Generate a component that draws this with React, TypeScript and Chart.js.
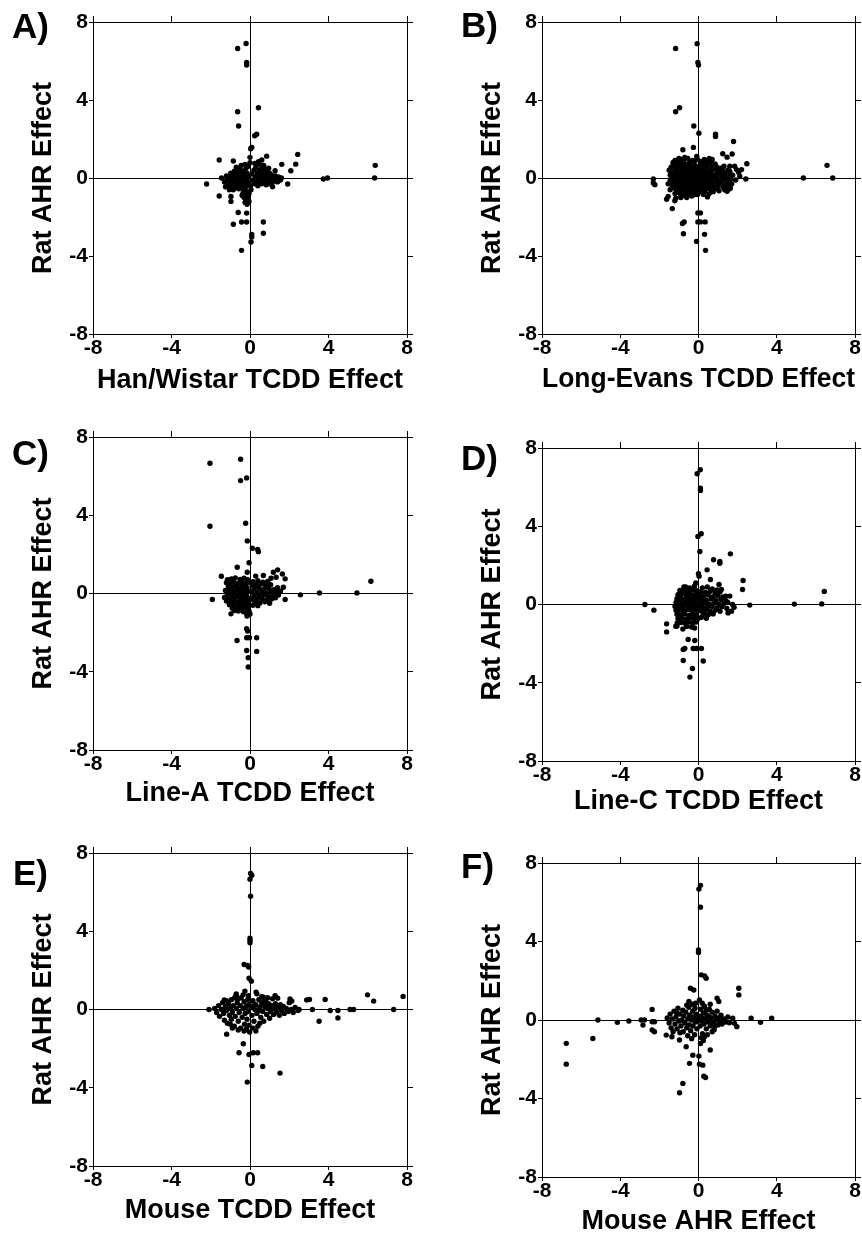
import React, { useEffect, useRef } from 'react';
import { Chart, registerables } from 'chart.js';

Chart.register(...registerables);

type Pt = [number, number];

const tickValues = [-8, -4, 0, 4, 8];
const yAxisTitle = 'Rat AHR Effect';
const panelLetters = ['A)', 'B)', 'C)', 'D)', 'E)', 'F)'];
const xAxisTitles = [
  'Han/Wistar TCDD Effect',
  'Long-Evans TCDD Effect',
  'Line-A TCDD Effect',
  'Line-C TCDD Effect',
  'Mouse TCDD Effect',
  'Mouse AHR Effect',
];

// ---------- Panel A: Han/Wistar TCDD vs Rat AHR ----------
const panelA: Pt[] = [
  [-0.2, 6.9], [-0.63, 6.64], [-0.17, 5.92], [-0.17, 5.79], [-0.63, 3.4], [0.43, 3.6], [-0.58, 2.67],
  [3.74, -0.05], [3.95, 0], [6.38, 0.65], [6.35, 0],
  [0.34, 2.25], [0.24, 2.17], [0.09, 1.57], [0.03, 1.5], [0, 1.06], [0, 0.78], [-1.57, 0.92], [-0.85, 0.87],
  [2.43, 1.21], [2.33, 0.71], [1.62, 0.7], [2.08, 0.37], [0.85, 1.12], [0.43, 0.83], [0.6, 0.92], [1.28, 0.37],
  [-2.21, -0.31], [1.92, -0.31], [-1.57, -0.92], [-0.97, -0.95], [-0.97, -1.2], [-0.6, -1.77], [-0.17, -1.8],
  [-0.85, -2.37], [-0.43, -2.26], [-0.17, -2.26], [0.68, -2.26], [0.68, -2.83], [0.09, -2.9], [0.09, -3.03],
  [0.05, -3.28], [-0.43, -3.71],
  [-1.45, 0], [-1.3, -0.2], [-1.25, -0.45], [-1.2, 0.1], [-1.15, -0.1], [-1.1, -0.35], [-1.05, 0.05], [-1.0, -0.2],
  [-0.98, 0.25], [-0.95, -0.5], [-0.9, 0.0], [-0.88, -0.3], [-0.85, 0.15], [-0.82, -0.1], [-0.8, 0.35], [-0.78, -0.45],
  [-0.75, 0.05], [-0.72, -0.2], [-0.7, 0.2], [-0.68, -0.35], [-0.65, 0.0], [-0.62, -0.15], [-0.6, 0.3], [-0.58, -0.55],
  [-0.55, 0.1], [-0.52, -0.3], [-0.5, 0.45], [-0.48, -0.05], [-0.45, 0.2], [-0.42, -0.4], [-0.4, 0.05], [-0.38, -0.2],
  [-0.35, 0.35], [-0.32, -0.6], [-0.3, 0.0], [-0.28, -0.3], [-0.25, 0.15], [-0.22, -0.45], [-0.2, 0.5], [-0.18, -0.1],
  [-0.15, 0.25], [-0.12, -0.35], [-0.1, 0.05], [-0.08, 0.6], [-0.05, -0.2], [-0.7, 0.55], [-0.45, 0.65], [-0.25, 0.7],
  [-1.05, -0.6], [-0.85, -0.6],
  [-0.35, -0.75], [-0.25, -0.85], [-0.15, -0.7], [-0.3, -1.0], [-0.2, -1.1], [-0.1, -0.95], [-0.25, -1.25],
  [-0.15, -1.35], [-0.05, -1.2], [-0.4, -0.9], [-0.05, -0.8], [0.05, -0.6], [0.02, -0.4],
  [0.1, 0.2], [0.15, -0.1], [0.2, 0.4], [0.22, -0.3], [0.28, 0.05], [0.3, 0.55], [0.33, -0.2], [0.38, 0.25],
  [0.4, -0.4], [0.45, 0.0], [0.48, 0.4], [0.5, -0.15], [0.55, 0.15], [0.58, -0.3], [0.6, 0.5], [0.62, 0.05],
  [0.65, -0.1], [0.68, 0.3], [0.7, -0.25], [0.72, 0.1], [0.75, 0.45], [0.78, -0.05], [0.8, 0.2], [0.82, -0.35],
  [0.85, 0.0], [0.88, 0.35], [0.9, -0.15], [0.95, 0.1], [0.98, -0.3], [1.0, 0.25], [1.05, -0.05], [1.1, 0.15],
  [1.12, -0.25], [1.18, 0.05], [1.22, -0.15], [1.3, 0.1], [1.35, -0.05], [1.4, -0.2], [1.45, 0.05], [1.55, -0.1],
  [1.6, 0.0], [1.15, -0.45], [0.5, 0.7], [0.25, 0.75], [0.7, 0.65], [0.95, 0.5],
];

// ---------- Panel B: Long-Evans TCDD vs Rat AHR ----------
const panelB: Pt[] = [
  [-0.07, 6.89], [-1.17, 6.64], [-0.03, 5.92], [0, 5.79], [-1.17, 3.4], [-0.97, 3.6], [-0.24, 2.67], [0.02, 2.3],
  [0.87, 2.25], [0.87, 2.13], [1.79, 1.87], [-0.26, 1.57], [-0.8, 1.45], [-0.09, 1.1], [1.24, 1.24], [1.72, 1.23],
  [1.46, 1.07], [2.47, 0.73], [5.36, 0], [6.57, 0.65], [6.86, 0],
  [-2.31, -0.05], [-2.31, -0.26], [-2.23, -0.34], [-1.34, -1.57], [-1.55, -0.94], [-1.63, -1.09],
  [-1.21, -1.17], [-1.16, -1.04], [-0.82, -2.33], [-0.73, -2.26], [-0.77, -2.86], [-0.1, -3.25],
  [-0.03, -1.79], [0.1, -1.79], [-0.03, -2.25], [0.1, -2.25], [0.34, -2.25], [0.31, -2.89], [0.36, -3.71],
  [-0.24, -0.85], [0.46, -0.97],
  [1.6, 0.6], [1.94, 0.43], [2.2, 0.43], [1.6, 0.34], [2.11, 0.09], [2.42, -0.05],
  [1.34, -0.6], [1.46, -0.68], [1.57, -0.56], [1.63, -0.51],
  [-0.9, 0.95], [-0.55, 1.0], [-0.3, 0.9], [-1.2, 0.9],
  [-1.1, 0.8], [-0.75, 0.82], [-0.45, 0.78], [-0.2, 0.85], [-0.95, 0.75],
  [-1.3, 0.65], [-1.05, 0.62], [-0.85, 0.68], [-0.65, 0.6], [-0.4, 0.66], [-0.15, 0.62], [-0.55, 0.7],
  [-1.2, 0.5], [-1.0, 0.48], [-0.8, 0.52], [-0.6, 0.45], [-0.45, 0.5], [-0.28, 0.55], [-0.1, 0.48], [-0.7, 0.4],
  [-1.35, 0.3], [-1.15, 0.35], [-0.95, 0.32], [-0.78, 0.38], [-0.58, 0.3], [-0.38, 0.36], [-0.22, 0.32], [-0.05, 0.38],
  [-0.5, 0.22], [-1.25, 0.18], [-1.08, 0.2], [-0.88, 0.15], [-0.7, 0.22], [-0.32, 0.2], [-0.15, 0.15], [-1.0, 0.1],
  [-1.38, 0.05], [-1.18, 0.02], [-0.98, -0.02], [-0.8, 0.05], [-0.62, 0.08], [-0.45, 0.0], [-0.28, 0.05], [-0.1, 0.02],
  [-0.55, -0.08], [-1.3, -0.12], [-1.1, -0.1], [-0.9, -0.15], [-0.72, -0.08], [-0.38, -0.12], [-0.2, -0.1], [-0.05, -0.15],
  [-1.35, -0.28], [-1.2, -0.25], [-1.02, -0.3], [-0.85, -0.22], [-0.65, -0.25], [-0.48, -0.3], [-0.3, -0.22], [-0.12, -0.28],
  [-1.28, -0.42], [-1.08, -0.38], [-0.92, -0.45], [-0.75, -0.4], [-0.58, -0.42], [-0.4, -0.38], [-0.22, -0.45], [-0.05, -0.4],
  [-1.15, -0.58], [-0.98, -0.55], [-0.8, -0.6], [-0.62, -0.55], [-0.45, -0.6], [-0.28, -0.52], [-0.1, -0.58],
  [-1.05, -0.72], [-0.85, -0.75], [-0.65, -0.7], [-0.48, -0.78], [-0.32, -0.7], [-0.15, -0.75],
  [-0.9, -0.88], [-0.7, -0.9], [-0.52, -0.85], [-0.35, -0.92], [-0.2, -0.85], [-1.2, -0.8],
  [0.1, 0.7], [0.35, 0.75], [0.6, 0.8], [0.85, 0.72], [0.2, 0.55], [0.45, 0.6], [0.7, 0.58], [0.95, 0.55], [1.15, 0.5],
  [0.08, 0.4], [0.3, 0.42], [0.55, 0.38], [0.78, 0.45], [1.0, 0.4], [1.25, 0.35],
  [0.15, 0.25], [0.4, 0.22], [0.62, 0.28], [0.88, 0.2], [1.1, 0.25], [1.35, 0.18],
  [0.05, 0.08], [0.25, 0.1], [0.5, 0.05], [0.72, 0.12], [0.95, 0.05], [1.2, 0.08], [1.45, 0.02],
  [0.12, -0.08], [0.35, -0.05], [0.6, -0.1], [0.82, -0.05], [1.05, -0.12], [1.3, -0.08], [1.55, -0.12],
  [0.2, -0.25], [0.45, -0.22], [0.7, -0.28], [0.92, -0.2], [1.15, -0.25], [1.4, -0.3],
  [0.1, -0.4], [0.3, -0.42], [0.55, -0.38], [0.8, -0.45], [1.0, -0.4], [1.25, -0.45],
  [0.2, -0.58], [0.42, -0.55], [0.65, -0.6], [0.9, -0.55], [0.05, -0.7], [0.3, -0.72],
  [1.75, 0.15], [1.9, -0.1], [1.7, -0.3], [2.05, 0.3], [1.85, 0.6], [0.55, 1.0], [0.3, 0.95], [0.7, 0.95],
  [-1.5, 0.4], [-1.55, -0.3], [-1.45, -0.6],
  [0.15, 0.85], [0.5, 0.9], [1.3, 0.6], [1.5, 0.4], [1.6, 0.2], [1.65, -0.05], [1.6, -0.35], [1.45, -0.5],
  [1.05, -0.65], [0.75, -0.7], [0.55, -0.8], [0.25, -0.85], [0.0, 0.55], [0.0, -0.5], [0.02, 0.2], [0.02, -0.2],
  [-1.45, 0.15], [-1.45, -0.15], [-1.4, 0.55], [-1.35, -0.5], [-1.3, 0.8], [-1.0, 1.0], [-0.7, 1.05],
  [-0.05, 0.95], [-0.05, -0.85], [-0.6, -1.0], [-0.9, -1.0],
];

// ---------- Panel C: Line-A TCDD vs Rat AHR ----------
const panelC: Pt[] = [
  [-0.48, 6.86], [-2.04, 6.66], [-0.48, 5.77], [-0.17, 5.91], [-2.04, 3.44], [-0.22, 3.59], [-0.14, 2.69],
  [0.12, 2.31], [0.39, 2.25], [0.43, 2.14], [-0.05, 1.57], [-0.65, 1.34], [-0.14, 1.09], [-1.46, 0.88],
  [0.29, 0.89], [0.68, 0.92], [1.19, 1.09], [1.41, 1.21], [1.65, 1.0], [1.79, 0.75], [1.07, 0.78], [1.33, 0.83],
  [1.7, 0.32], [-1.92, -0.31], [1.79, -0.31], [2.57, -0.07], [3.54, 0.03], [5.45, 0.03], [6.16, 0.63],
  [-0.8, -0.87], [-0.97, -1.04], [-0.17, -1.8], [-0.12, -1.92], [-0.66, -2.4], [-0.17, -2.26], [-0.03, -2.26],
  [0.34, -2.26], [-0.17, -2.91], [0.34, -2.96], [-0.09, -3.28], [-0.09, -3.76],
  [-1.15, 0.7], [-0.95, 0.75], [-0.75, 0.8], [-0.5, 0.72], [-0.3, 0.78], [-0.12, 0.7],
  [-1.2, 0.55], [-1.0, 0.5], [-0.82, 0.58], [-0.62, 0.52], [-0.42, 0.55], [-0.22, 0.5], [-0.05, 0.58],
  [-1.1, 0.35], [-0.9, 0.32], [-0.7, 0.38], [-0.5, 0.3], [-0.32, 0.35], [-0.15, 0.3],
  [-1.25, 0.15], [-1.05, 0.18], [-0.85, 0.12], [-0.65, 0.2], [-0.45, 0.12], [-0.25, 0.18], [-0.08, 0.1],
  [-1.15, -0.02], [-0.95, 0.0], [-0.75, -0.05], [-0.55, 0.02], [-0.35, -0.03], [-0.18, 0.0],
  [-1.3, -0.2], [-1.08, -0.18], [-0.88, -0.22], [-0.68, -0.15], [-0.48, -0.2], [-0.28, -0.18], [-0.1, -0.22],
  [-1.2, -0.38], [-1.0, -0.4], [-0.8, -0.35], [-0.6, -0.42], [-0.4, -0.38], [-0.2, -0.4], [-0.05, -0.35],
  [-1.05, -0.58], [-0.85, -0.55], [-0.65, -0.6], [-0.45, -0.55], [-0.25, -0.6], [-0.08, -0.55],
  [-0.9, -0.75], [-0.7, -0.78], [-0.5, -0.72], [-0.3, -0.78], [-0.12, -0.72],
  [-0.35, -0.92], [-0.2, -1.0], [-0.05, -0.9], [-0.15, -1.15], [0.0, -1.05], [-0.6, -0.9],
  [0.15, 0.6], [0.4, 0.65], [0.65, 0.58], [0.9, 0.62],
  [0.1, 0.45], [0.3, 0.42], [0.55, 0.48], [0.8, 0.4], [1.05, 0.45],
  [0.2, 0.25], [0.45, 0.28], [0.7, 0.22], [0.95, 0.25], [1.2, 0.2], [1.4, 0.3],
  [0.1, 0.08], [0.35, 0.05], [0.6, 0.1], [0.85, 0.02], [1.1, 0.08], [1.35, 0.05], [1.55, 0.12],
  [0.2, -0.1], [0.45, -0.12], [0.7, -0.08], [0.95, -0.15], [1.2, -0.1], [1.45, -0.08],
  [0.1, -0.28], [0.35, -0.3], [0.6, -0.25], [0.85, -0.32], [1.1, -0.28], [1.3, -0.22],
  [0.25, -0.45], [0.5, -0.48], [0.75, -0.42], [1.0, -0.5], [0.15, -0.6], [0.4, -0.62],
];

// ---------- Panel D: Line-C TCDD vs Rat AHR ----------
const panelD: Pt[] = [
  [0.09, 6.89], [-0.07, 6.68], [0.1, 5.95], [0.1, 5.83], [-0.03, 3.48], [0.14, 3.62], [0.07, 2.71],
  [0.77, 2.29], [1.09, 2.2], [1.09, 2.11], [1.63, 2.59], [0.44, 1.77], [0.0, 1.57], [0.03, 1.45],
  [0.61, 1.28], [1.05, 1.02], [1.17, 0.77], [2.28, 1.23], [2.25, 0.77], [-0.14, 1.1], [-0.66, 0.9], [-0.7, 0.77],
  [1.4, 0.43], [1.6, 0.43], [1.74, 0], [1.82, -0.14], [1.69, -0.34], [1.51, -0.43], [2.62, -0.03],
  [6.43, 0.67], [6.3, 0.03], [4.9, 0.02], [-2.74, 0], [-2.28, -0.29],
  [-1.63, -0.99], [-1.63, -1.4], [-1.16, -1.11], [-1.09, -0.94], [-0.53, -1.79], [-0.19, -1.84],
  [-0.78, -2.3], [-0.7, -2.25], [-0.27, -2.25], [-0.1, -2.25], [0.15, -2.25], [-0.78, -2.86], [0.24, -2.89],
  [-0.31, -3.27], [-0.44, -3.71],
  [-0.75, 0.9], [-0.45, 0.85], [-0.2, 0.95],
  [-0.95, 0.72], [-0.7, 0.7], [-0.5, 0.68], [-0.3, 0.75], [-0.1, 0.7],
  [-1.05, 0.5], [-0.85, 0.55], [-0.62, 0.48], [-0.42, 0.52], [-0.22, 0.5], [-0.05, 0.55],
  [-1.1, 0.3], [-0.9, 0.32], [-0.7, 0.28], [-0.5, 0.35], [-0.3, 0.3], [-0.12, 0.32],
  [-1.15, 0.1], [-0.95, 0.12], [-0.75, 0.08], [-0.55, 0.15], [-0.35, 0.1], [-0.15, 0.12],
  [-1.2, -0.1], [-1.0, -0.08], [-0.8, -0.12], [-0.6, -0.05], [-0.4, -0.1], [-0.2, -0.08], [-0.05, -0.12],
  [-1.15, -0.3], [-0.95, -0.28], [-0.75, -0.32], [-0.55, -0.25], [-0.35, -0.3], [-0.15, -0.28],
  [-1.1, -0.5], [-0.9, -0.52], [-0.7, -0.48], [-0.5, -0.55], [-0.3, -0.5], [-0.1, -0.52],
  [-1.05, -0.72], [-0.85, -0.7], [-0.65, -0.75], [-0.45, -0.7], [-0.25, -0.72], [-0.05, -0.75],
  [-0.9, -0.92], [-0.7, -0.95], [-0.5, -0.9], [-0.3, -0.95], [-0.12, -0.9],
  [-1.1, -1.1], [-0.6, -1.12], [-0.35, -1.15], [-0.2, -1.2], [-0.8, -1.25],
  [0.2, 0.85], [0.45, 0.9], [0.7, 0.8], [0.95, 0.75],
  [0.1, 0.65], [0.35, 0.62], [0.6, 0.68], [0.85, 0.6], [1.1, 0.65],
  [0.05, 0.45], [0.25, 0.42], [0.5, 0.48], [0.75, 0.4], [1.0, 0.45], [1.25, 0.38],
  [0.15, 0.25], [0.4, 0.22], [0.65, 0.28], [0.9, 0.2], [1.15, 0.25], [1.4, 0.2],
  [0.08, 0.05], [0.3, 0.08], [0.55, 0.02], [0.8, 0.08], [1.05, 0.0], [1.3, 0.05], [1.5, 0.1],
  [0.2, -0.12], [0.45, -0.15], [0.7, -0.1], [0.95, -0.18], [1.2, -0.12], [1.45, -0.2],
  [0.1, -0.32], [0.35, -0.3], [0.6, -0.35], [0.85, -0.3], [1.1, -0.35],
  [0.25, -0.5], [0.5, -0.52], [0.75, -0.48], [0.15, -0.65], [0.4, -0.7],
];

// ---------- Panel E: Mouse TCDD vs Rat AHR ----------
const panelE: Pt[] = [
  [0.03, 6.95], [0.09, 6.86], [0, 6.66], [0.03, 5.79], [0, 3.65], [0, 3.53], [0, 3.41],
  [-0.3, 2.3], [-0.12, 2.25], [-0.07, 2.17], [-0.05, 1.6], [0.07, 1.45],
  [5.99, 0.75], [6.3, 0.43], [7.8, 0.67], [7.32, 0], [3.83, 0.51], [3.03, 0.51], [3.18, 0], [3.52, -0.6],
  [4.09, -0.05], [4.48, -0.05], [4.48, -0.43], [5.1, 0], [5.28, 0], [-2.09, 0], [2.5, 0], [2.89, 0.49],
  [-0.26, 0.94], [0.31, 0.89], [-1.31, 0.49], [-0.71, 0.71], [-0.65, 0.54], [0.68, 0.63], [1.28, 0.71],
  [1.41, 0.58], [2.04, 0.54], [2.13, 0.43],
  [-1.19, -1.26], [-0.34, -1.75], [-0.56, -2.21], [-0.05, -2.3], [0.17, -2.21], [0.39, -2.21],
  [0.09, -2.86], [0.65, -2.91], [1.53, -3.25], [-0.14, -3.71],
  [-1.8, 0.05], [-1.7, -0.15], [-1.6, 0.2], [-1.55, -0.35], [-1.45, 0.0], [-1.4, 0.35], [-1.35, -0.2], [-1.3, -0.55],
  [-1.25, 0.15], [-1.2, -0.05], [-1.15, -0.7], [-1.1, 0.3], [-1.05, -0.3], [-1.0, 0.05], [-0.95, 0.5], [-0.95, -0.5],
  [-0.9, -0.15], [-0.85, 0.2], [-0.8, -0.85], [-0.78, 0.6], [-0.75, -0.35], [-0.7, 0.05], [-0.65, 0.35], [-0.6, -0.6],
  [-0.55, -0.15], [-0.5, 0.2], [-0.48, -0.95], [-0.45, 0.6], [-0.4, -0.4], [-0.35, 0.05], [-0.3, 0.4], [-0.28, -0.75],
  [-0.25, -0.2], [-0.2, 0.15], [-0.18, -1.0], [-0.15, -0.5], [-0.12, 0.5], [-0.1, -0.1], [-0.05, 0.25], [-0.05, -0.8],
  [-0.02, -1.15], [-0.3, -1.1], [-0.6, -1.05], [-0.9, -0.95], [-1.0, -0.75], [-0.7, 0.8], [-0.35, 0.75], [-0.08, 0.7],
  [-1.2, 0.45], [-0.6, 0.55],
  [0.05, 0.1], [0.1, -0.3], [0.15, 0.45], [0.2, -0.6], [0.25, 0.0], [0.3, 0.25], [0.35, -0.2], [0.4, -0.85],
  [0.45, 0.5], [0.5, 0.1], [0.55, -0.4], [0.6, 0.3], [0.65, -0.1], [0.7, -0.6], [0.75, 0.15], [0.8, 0.45],
  [0.85, -0.25], [0.9, 0.05], [0.95, 0.3], [1.0, -0.45], [1.05, -0.1], [1.1, 0.2], [1.15, 0.55], [1.2, -0.25],
  [1.25, 0.05], [1.3, 0.3], [1.35, -0.15], [1.45, 0.1], [1.5, -0.3], [1.55, 0.25], [1.6, -0.05], [1.7, 0.15],
  [1.75, -0.2], [1.85, 0.05], [1.95, -0.1], [2.0, 0.35], [2.1, 0.0], [2.2, -0.15], [2.3, 0.1], [2.45, -0.05],
  [0.3, -1.1], [0.15, -0.95], [0.5, -0.7], [0.35, 0.8], [0.6, 0.65], [0.9, 0.6], [0.2, 0.2], [0.45, -0.05],
  [0.7, 0.4], [1.0, 0.1],
];

// ---------- Panel F: Mouse AHR vs Rat AHR ----------
const panelF: Pt[] = [
  [0.1, 6.86], [0.02, 6.67], [0.1, 5.75], [0, 3.57], [0, 3.44], [0.14, 2.3], [0.31, 2.25], [0.39, 2.13],
  [-0.41, 1.62], [-0.24, 1.53], [2.06, 1.62], [2.06, 1.28], [0.95, 1.11], [1.04, 0.94], [-0.49, 0.94],
  [0.05, 1.02], [0.19, 0.85], [-2.37, 0.54], [-5.14, 0], [-4.15, -0.12], [-3.56, -0.05],
  [-2.93, 0], [-2.76, 0], [-2.84, -0.26], [-2.37, -0.09], [-2.25, -0.09], [-2.37, -0.51], [-2.25, -0.6],
  [-5.4, -0.94], [-6.76, -1.19], [-6.76, -2.25], [2.69, 0.09], [3.17, -0.12], [3.74, 0.09],
  [-1.65, -0.77], [-1.36, -0.85], [-0.97, -1.02], [-0.63, -1.36], [1.58, -0.14], [1.75, 0.09], [1.84, -0.17],
  [1.96, -0.34], [0.6, -1.53], [-0.29, -1.79], [0.02, -1.84], [-0.46, -2.21], [0.05, -2.25], [0.22, -2.3],
  [0.27, -2.86], [0.36, -2.93], [-0.8, -3.23], [-0.97, -3.71],
  [-1.6, 0.1], [-1.5, -0.15], [-1.45, 0.3], [-1.4, -0.4], [-1.35, 0.05], [-1.3, -0.6], [-1.25, 0.45], [-1.2, -0.2],
  [-1.15, 0.15], [-1.1, -0.45], [-1.05, 0.6], [-1.0, -0.05], [-0.95, 0.3], [-0.9, -0.3], [-0.85, 0.0], [-0.8, 0.5],
  [-0.78, -0.6], [-0.75, 0.2], [-0.7, -0.15], [-0.65, 0.4], [-0.6, -0.4], [-0.55, 0.05], [-0.5, 0.65], [-0.48, -0.25],
  [-0.45, 0.25], [-0.4, -0.55], [-0.35, 0.0], [-0.3, 0.45], [-0.28, -0.3], [-0.25, 0.15], [-0.2, -0.75], [-0.18, 0.6],
  [-0.15, -0.1], [-0.1, 0.3], [-0.08, -0.45], [-0.05, 0.05], [-0.95, -0.65], [-0.6, 0.75], [-0.3, 0.8], [-1.1, 0.35],
  [-0.55, -0.8], [-0.35, -0.95], [-0.15, 0.85],
  [0.05, 0.2], [0.08, -0.3], [0.12, 0.55], [0.15, -0.05], [0.2, -0.7], [0.25, 0.35], [0.28, -0.2], [0.3, 0.7],
  [0.35, 0.05], [0.4, -0.45], [0.45, 0.25], [0.5, -0.1], [0.55, 0.55], [0.6, -0.3], [0.65, 0.1], [0.7, 0.4],
  [0.75, -0.15], [0.8, -0.5], [0.85, 0.2], [0.9, 0.0], [0.95, 0.45], [1.0, -0.25], [1.05, 0.1], [1.1, -0.05],
  [1.15, 0.25], [1.2, -0.2], [1.3, 0.05], [1.4, -0.1], [1.5, 0.15], [0.15, -0.9], [0.25, -1.05], [0.1, -1.2],
  [0.3, -0.85], [0.45, -0.75], [0.6, 0.8], [0.2, 0.1], [0.55, 0.15], [0.85, -0.3], [0.4, 0.5], [0.7, -0.6],
];

const panelData: Pt[][] = [panelA, panelB, panelC, panelD, panelE, panelF];

// ---------- layout (page pixels) ----------
type Layout = { left: number; top: number; w: number; h: number; titleOff: number; lx: number; ly: number };
const layouts: Layout[] = [
  { left: 93, top: 22, w: 314, h: 312, titleOff: 47, lx: 12, ly: 38 },
  { left: 542, top: 22, w: 313, h: 312, titleOff: 46, lx: 461, ly: 37 },
  { left: 93, top: 437, w: 314, h: 313, titleOff: 44, lx: 12, ly: 465 },
  { left: 542, top: 448, w: 313, h: 313, titleOff: 41, lx: 461, ly: 470 },
  { left: 93, top: 853, w: 314, h: 313, titleOff: 45, lx: 13, ly: 885 },
  { left: 542, top: 863, w: 313, h: 314, titleOff: 45, lx: 461, ly: 878 },
];

const FONT = '"Liberation Sans", Arial, Helvetica, sans-serif';
const Y_AXIS_W = 93;
const TOP_M = 22;
const X_AXIS_H = 66;
const TITLE_SIZE = 27;
const TICK_SIZE = 21;

const letterPlugin = {
  id: 'panelLetter',
  afterDraw(chart: any, _args: any, opts: any) {
    const ctx = chart.ctx;
    ctx.save();
    ctx.font = `bold 35px ${FONT}`;
    ctx.fillStyle = '#000';
    ctx.textBaseline = 'alphabetic';
    ctx.textAlign = 'left';
    ctx.fillText(opts.text, opts.x, opts.y);
    ctx.restore();
  },
};

function Panel({ index }: { index: number }) {
  const ref = useRef<HTMLCanvasElement>(null);
  const L = layouts[index];
  const canvasLeft = L.left - Y_AXIS_W;
  const canvasTop = L.top - TOP_M;
  const rightM = Math.min(24, 862 - (L.left + L.w));
  const W = Y_AXIS_W + L.w + rightM;
  const H = TOP_M + L.h + X_AXIS_H;

  useEffect(() => {
    const data = panelData[index].map(([x, y]) => ({ x, y }));
    const gridColor = (c: any) => (c.tick && c.tick.value === 0 ? '#000' : 'rgba(0,0,0,0)');
    const tickFont = { family: FONT, size: TICK_SIZE, weight: 'bold' as const, lineHeight: 1 };
    const titleFont = { family: FONT, size: TITLE_SIZE, weight: 'bold' as const, lineHeight: 1 };
    const chart = new Chart(ref.current as HTMLCanvasElement, {
      type: 'scatter',
      data: {
        datasets: [
          {
            data,
            pointRadius: 2.7,
            pointHoverRadius: 2.7,
            pointBorderWidth: 0,
            backgroundColor: '#000',
            borderColor: '#000',
          },
        ],
      },
      options: {
        responsive: false,
        animation: false,
        devicePixelRatio: 1,
        events: [],
        layout: { padding: 0 },
        plugins: {
          legend: { display: false },
          tooltip: { enabled: false },
          panelLetter: { text: panelLetters[index], x: L.lx - canvasLeft, y: L.ly - canvasTop },
        } as any,
        scales: {
          x: {
            type: 'linear',
            position: 'bottom',
            min: -8,
            max: 8,
            afterBuildTicks: (s: any) => {
              s.ticks = tickValues.map((v) => ({ value: v }));
            },
            afterFit: (s: any) => {
              s.height = X_AXIS_H;
              s.paddingLeft = 0;
              s.paddingRight = 0;
            },
            ticks: { font: tickFont, color: '#000', padding: 0, maxRotation: 0, autoSkip: false, callback: (v: any) => String(v) },
            grid: { color: gridColor, tickColor: '#000', tickLength: 4, lineWidth: 1, drawOnChartArea: true, drawTicks: true },
            border: { display: true, color: '#000', width: 1 },
            title: {
              display: true,
              text: xAxisTitles[index],
              color: '#000',
              font: titleFont,
              padding: { top: 0, bottom: X_AXIS_H - TITLE_SIZE / 2 - L.titleOff },
            },
          },
          y: {
            type: 'linear',
            position: 'left',
            min: -8,
            max: 8,
            afterBuildTicks: (s: any) => {
              s.ticks = tickValues.map((v) => ({ value: v }));
            },
            afterFit: (s: any) => {
              s.width = Y_AXIS_W;
              s.paddingTop = 0;
              s.paddingBottom = 0;
            },
            ticks: { font: tickFont, color: '#000', padding: 1, autoSkip: false, callback: (v: any) => String(v) },
            grid: { color: gridColor, tickColor: '#000', tickLength: 4, lineWidth: 1, drawOnChartArea: true, drawTicks: true },
            border: { display: true, color: '#000', width: 1 },
            title: {
              display: true,
              text: yAxisTitle,
              color: '#000',
              font: titleFont,
              padding: { top: 30, bottom: 0 },
            },
          },
          x2: {
            type: 'linear',
            position: 'top',
            min: -8,
            max: 8,
            afterBuildTicks: (s: any) => {
              s.ticks = tickValues.map((v) => ({ value: v }));
            },
            afterFit: (s: any) => {
              s.height = TOP_M;
              s.paddingLeft = 0;
              s.paddingRight = 0;
            },
            ticks: { display: false },
            grid: { drawOnChartArea: false, drawTicks: true, tickLength: 6, color: '#000', tickColor: '#000' },
            border: { display: true, color: '#000', width: 1 },
          },
          y2: {
            type: 'linear',
            position: 'right',
            min: -8,
            max: 8,
            afterBuildTicks: (s: any) => {
              s.ticks = tickValues.map((v) => ({ value: v }));
            },
            afterFit: (s: any) => {
              s.width = rightM;
              s.paddingTop = 0;
              s.paddingBottom = 0;
            },
            ticks: { display: false },
            grid: { drawOnChartArea: false, drawTicks: true, tickLength: 6, color: '#000', tickColor: '#000' },
            border: { display: true, color: '#000', width: 1 },
          },
        },
      } as any,
      plugins: [letterPlugin],
    });
    return () => chart.destroy();
  }, [index]);

  return (
    <canvas
      ref={ref}
      width={W}
      height={H}
      style={{ position: 'absolute', left: canvasLeft, top: canvasTop, width: W, height: H, display: 'block' }}
    />
  );
}

export default function App() {
  return (
    <div style={{ position: 'absolute', left: 0, top: 0, width: 862, height: 1235, background: '#fff', overflow: 'hidden' }}>
      {layouts.map((_, i) => (
        <Panel key={i} index={i} />
      ))}
    </div>
  );
}
